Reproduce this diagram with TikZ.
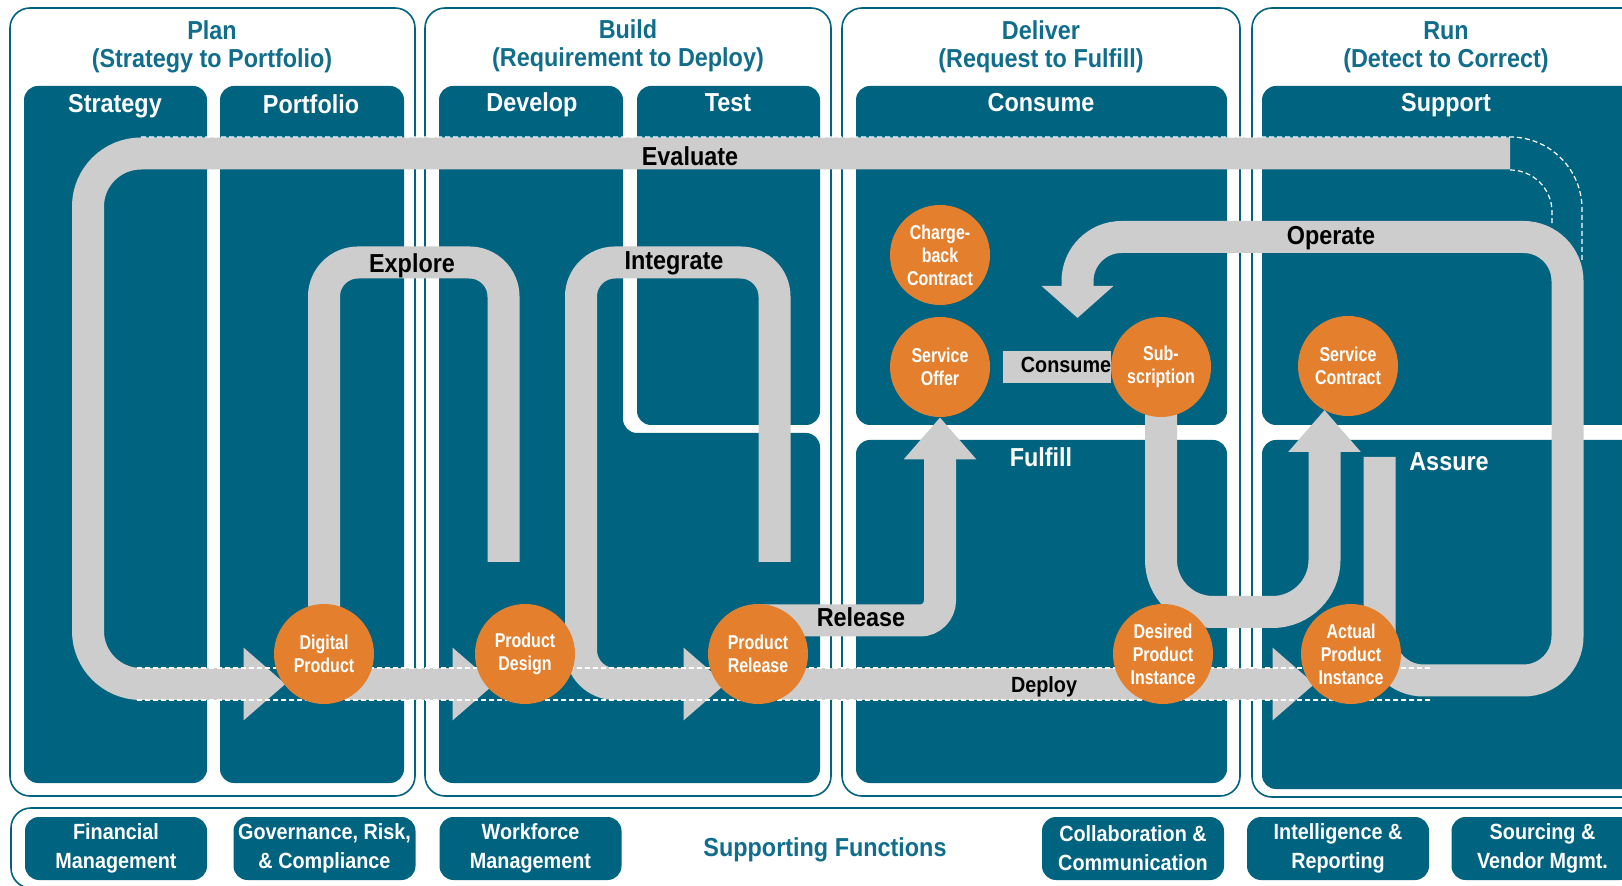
\documentclass[tikz,border=0pt]{standalone}
\usepackage{fontspec}
\setmainfont{Liberation Sans}[FakeStretch=0.9]
\newfontfamily\circfont{Liberation Sans}[FakeStretch=0.8]
\usepackage{tikz}
\usetikzlibrary{arrows.meta}
\tikzset{>=latex}
\usepackage{xcolor}
\definecolor{tealbox}{RGB}{0,99,128}
\definecolor{titlecol}{RGB}{16,110,140}
\definecolor{bandcol}{RGB}{205,205,205}
\definecolor{stagecol}{RGB}{228,128,45}
\tikzstyle{panel}=[draw=tealbox,line width=0.8pt,fill=white,rounded corners=10pt]
\tikzstyle{colbox}=[fill=tealbox,rounded corners=7pt]
\tikzstyle{band}=[draw=bandcol,line width=16pt]
\tikzstyle{seam}=[white,line width=0.6pt,dash pattern=on 2.5pt off 1.5pt]
\tikzset{
  bandtip/.style={-{Triangle[width=35pt,length=#1]}},
  bandtip/.default=21pt,
  stage/.style={circle,fill=stagecol,minimum size=50pt,inner sep=0pt,text=white,
                align=center,font=\circfont\bfseries\fontsize{10}{11.5}\selectfont},
  ttl/.style={text=titlecol,align=center,font=\bfseries\fontsize{13}{14}\selectfont},
  hdr/.style={text=white,anchor=base,font=\bfseries\fontsize{13}{15}\selectfont},
  flowlbl/.style={text=black,anchor=base,inner sep=1pt,
                  font=\bfseries\fontsize{#1}{15}\selectfont},
  flowlbl/.default=13,
  suppbox/.style={fill=tealbox,rounded corners=7pt,text=white,align=center,
                  minimum width=91pt,minimum height=31.5pt,inner sep=0pt,
                  font=\bfseries\fontsize{11}{14.5}\selectfont}}
\pgfdeclarelayer{background}
\pgfdeclarelayer{bands}
\pgfsetlayers{background,bands,main}

\begin{document}
\begin{tikzpicture}[x=0.5pt,y=-0.5pt]
  \useasboundingbox (0,0) rectangle (1622,886);

  \begin{pgfonlayer}{background}
  \fill[white] (0,0) rectangle (1622,886);

  % PANELS
  \draw[panel] (10,8) rectangle (415,796);
  \draw[panel] (425,8) rectangle (831,796);
  \draw[panel] (842,8) rectangle (1240,796);
  \draw[panel] (1252,8) rectangle (1680,797);
  \draw[panel] (11,808) rectangle (1680,888);

  % COLUMNS
  \fill[colbox] (24,86) rectangle (207,783);
  \fill[colbox] (220,86) rectangle (404,783);
  \fill[colbox] (439,86) -- (623,86) -- (623,433) -- (820,433) -- (820,783) -- (439,783) -- cycle;
  \fill[colbox] (637,86) rectangle (820,425);
  \fill[colbox] (856,86) rectangle (1227,425);
  \fill[colbox] (856,440) rectangle (1227,783);
  \fill[colbox] (1262,86) rectangle (1680,425);
  \fill[colbox] (1262,440) rectangle (1680,789);

  % TITLES
  \node[ttl] (plan) at (212,47) {Plan\\(Strategy to Portfolio)};
  \node[ttl] (build) at (628,45.5) {Build\\(Requirement to Deploy)};
  \node[ttl] (deliver) at (1041,47) {Deliver\\(Request to Fulfill)};
  \node[ttl] (run) at (1446,47) {Run\\(Detect to Correct)};

  % HEADERS
  \foreach \x/\y/\txt [count=\i] in {115/113/Strategy,311/114/Portfolio,532/112/Develop,
      728/112/Test,1041/112/Consume,1446/112/Support,1041/467/Fulfill,1449/471/Assure}{
    \node[hdr] (hdr\i) at (\x,\y) {\txt};
  }

  % SUPPORTING FUNCTIONS
  \foreach \x/\txt [count=\i] in {116/{Financial\\Management},324.5/{Governance, Risk,\\\& Compliance},
      530.5/{Workforce\\Management},1133/{Collaboration \&\\Communication},
      1338/{Intelligence \&\\Reporting},1542.5/{Sourcing \&\\Vendor Mgmt.}}{
    \node[suppbox] (supp\i) at (\x,848.5) {\txt};
  }
  \node[text=titlecol,font=\bfseries\fontsize{13}{15}\selectfont] (suppfn) at (825,850) {Supporting Functions};
  \end{pgfonlayer}

  % STAGES
  \node[stage] (dp) at (324,654) {Digital\\Product};
  \node[stage] (pd) at (525,654) {Product\\Design};
  \node[stage] (pr) at (758,654) {Product\\Release};
  \node[stage] (dpi) at (1163,654) {Desired\\Product\\Instance};
  \node[stage] (api) at (1351,654) {Actual\\Product\\Instance};
  \node[stage] (cb) at (940,255) {Charge-\\back\\Contract};
  \node[stage] (so) at (940,367) {Service\\Offer};
  \node[stage] (sub) at (1161,367) {Sub-\\scription};
  \node[stage] (sc) at (1348,366) {Service\\Contract};

  \coordinate (evalend) at (1510,153.5);
  \coordinate (explend) at (503.5,562);
  \coordinate (intstart) at (774.5,562);
  \coordinate (scin) at (1324.5,410);
  \coordinate (opstart) at (1379.5,457);
  \coordinate (opin) at (1077.5,318);

  % FLOWS
  \begin{pgfonlayer}{bands}
  \draw[band,bandtip,rounded corners=26.5pt] (evalend) -- (88,153.5) |- ([xshift=6pt,yshift=-15pt]dp.west);
  \draw[band,rounded corners=17pt] (dp.center) |- (503.5,262.5) -- (explend);
  \draw[band,bandtip] ([yshift=-15pt]dp.center) -- ([xshift=10pt,yshift=-15pt]pd.west);
  \draw[band,bandtip,rounded corners=17pt] (intstart) |- (581,262.5) -- (581,684) -- ([xshift=9pt,yshift=-15pt]pr.west);
  \draw[band,bandtip] ([yshift=-15pt]pr.center) -- ([xshift=7pt,yshift=-15pt]api.west);
  \draw[band,bandtip,rounded corners=10pt] ([yshift=16.75pt]pr.center) -| (so.south);
  \draw[band] ([xshift=6.5pt]so.east) -- (sub.west);
  \draw[band,bandtip,rounded corners=26pt] (sub.center) |- (1324.5,612) -- (scin);
  \draw[band,bandtip=16pt,rounded corners=22pt] (opstart) |- (1567.5,680.5) |- (1077.5,237) -- (opin);

  % SEAMS
  \draw[seam] (137,700) -- (1430,700);
  \draw[seam] (137,668) -- (1430,668);
  \draw[seam,rounded corners=36pt] (141,137) -- (1582,137) -- (1582,262);
  \draw[seam,rounded corners=21pt] (1510,170) -- (1552,170) -- (1552,225);
  \end{pgfonlayer}

  % FLOW LABELS
  \node[flowlbl] (evallbl) at (690,166) {Evaluate};
  \node[flowlbl] (explbl) at (412,273) {Explore};
  \node[flowlbl] (intlbl) at (674,270) {Integrate};
  \node[flowlbl] (oplbl) at (1331,245) {Operate};
  \node[flowlbl] (rellbl) at (861,627) {Release};
  \node[flowlbl=11] (deplbl) at (1044,693) {Deploy};
  \node[flowlbl=11] (conlbl) at (1066,373) {Consume};

\end{tikzpicture}
\end{document}
